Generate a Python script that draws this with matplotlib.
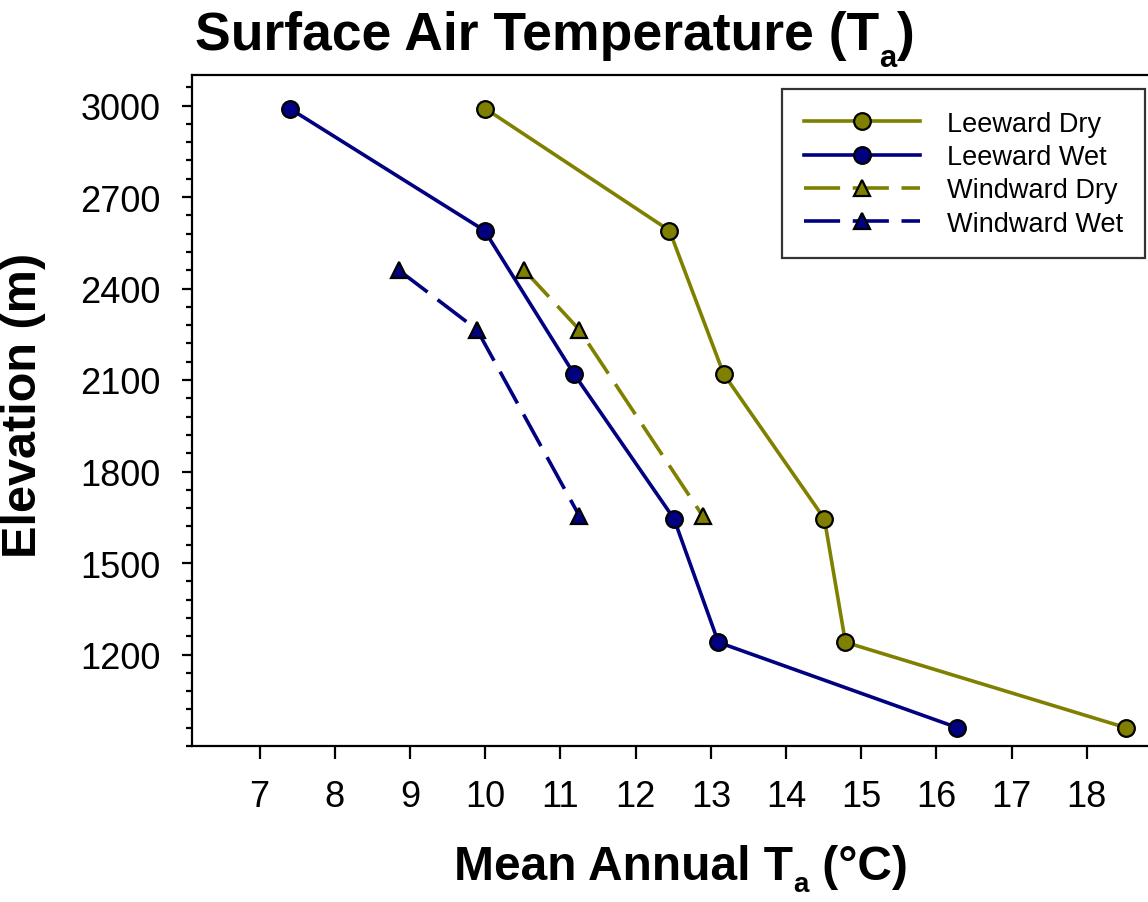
import matplotlib.pyplot as plt
from matplotlib.ticker import MultipleLocator

plt.rcParams['font.family'] = ['Liberation Sans', 'DejaVu Sans']

# data
lee_dry_t = [10.0, 12.45, 13.17, 14.51, 14.79, 18.52]
lee_dry_z = [2990, 2590, 2120, 1645, 1240, 960]
lee_wet_t = [7.40, 9.99, 11.18, 12.51, 13.10, 16.28]
lee_wet_z = [2990, 2590, 2120, 1645, 1240, 960]
win_dry_t = [10.52, 11.25, 12.89]
win_dry_z = [2460, 2265, 1655]
win_wet_t = [8.85, 9.89, 11.25]
win_wet_z = [2460, 2265, 1655]

olive = '#808000'
navy = '#000080'

W, H = 1148, 903
fig = plt.figure(figsize=(W / 100, H / 100), dpi=100)
ax = fig.add_axes([192 / W, (H - 747) / H, (1162 - 192) / W, (747 - 76) / H])

common = dict(lw=2.6, ms=12, mec='black', mew=1.6)
ax.plot(lee_dry_t, lee_dry_z, '-o', color=olive, mfc=olive, label='Leeward Dry', **common)
ax.plot(lee_wet_t, lee_wet_z, '-o', color=navy, mfc=navy, label='Leeward Wet', **common)
ax.plot(win_dry_t, win_dry_z, '^', ls=(0, (10, 3.5)), color=olive, mfc=olive, label='Windward Dry', **common)
ax.plot(win_wet_t, win_wet_z, '^', ls=(0, (10, 3.5)), color=navy, mfc=navy, label='Windward Wet', **common)

ax.set_xlim(6.1, 19)
ax.set_ylim(900, 3100)
ax.set_xticks(range(7, 19))
ax.set_yticks(range(1200, 3001, 300))
ax.yaxis.set_minor_locator(MultipleLocator(60))

for s in ax.spines.values():
    s.set_linewidth(1.6)
ax.spines['right'].set_visible(False)

ax.tick_params(axis='both', which='major', labelsize=26, width=1.6)
ax.tick_params(axis='x', which='major', length=9, pad=15)
ax.tick_params(axis='y', which='major', length=7.5, pad=15)
ax.tick_params(axis='y', which='minor', length=4.5, width=1.6)

leg = ax.legend(loc='upper right', bbox_to_anchor=(1145 / W, 1 - 90 / H),
                bbox_transform=fig.transFigure, borderaxespad=0, fontsize=19.5,
                frameon=True, fancybox=False, numpoints=1, handlelength=4.3,
                handletextpad=1.0, labelspacing=0.27, borderpad=0.8)
leg.get_frame().set_edgecolor('black')
leg.get_frame().set_linewidth(1.6)

renderer = fig.canvas.get_renderer()


def sub_text(x, y, parts, size, align='left', drop=0.31):
    # draw text with a lowered, smaller subscript piece; x, y in pixels (baseline)
    arts = []
    for s, is_sub in parts:
        fs = size * 0.58 if is_sub else size
        t = fig.text(0, 0, s, fontsize=fs, fontweight='bold', ha='left', va='baseline')
        arts.append((t, is_sub))
    widths = [t.get_window_extent(renderer).width for t, _ in arts]
    total = sum(widths)
    cx = x - total / 2 if align == 'center' else x
    for (t, is_sub), w in zip(arts, widths):
        dy = -size * drop * 100 / 72 if is_sub else 0
        t.set_position((cx / W, (H - y + dy) / H))
        cx += w


sub_text(195, 50, [('Surface Air Temperature (T', False), ('a', True), (')', False)], 38.5)
sub_text(681, 880, [('Mean Annual T', False), ('a', True), (' (°C)', False)], 34.5,
         align='center', drop=0.26)
fig.text(24 / W, 1 - 405 / H, 'Elevation (m)', fontsize=35, fontweight='bold',
         rotation=90, ha='center', va='center')

fig.savefig('out.png', dpi=100)
